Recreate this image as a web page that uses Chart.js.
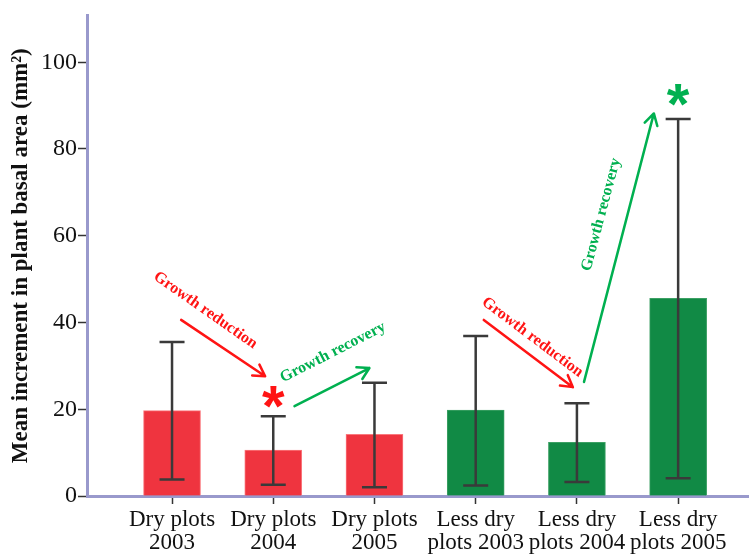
<!DOCTYPE html>
<html>
<head>
<meta charset="utf-8">
<script src="https://cdn.jsdelivr.net/npm/chart.js@4.4.1/dist/chart.umd.min.js"></script>
<style>
  html, body { margin: 0; padding: 0; background: #ffffff; }
  #wrap { width: 749px; height: 554px; position: relative; }
</style>
</head>
<body>
<div id="wrap"><canvas id="c" width="749" height="554"></canvas></div>
<script>
// Plot categories (two-line labels)
const categories = [
  ['Dry plots', '2003'],
  ['Dry plots', '2004'],
  ['Dry plots', '2005'],
  ['Less dry', 'plots 2003'],
  ['Less dry', 'plots 2004'],
  ['Less dry', 'plots 2005']
];
// Mean increment in plant basal area (mm²)
const meanIncrement = [19.7, 10.6, 14.2, 19.8, 12.4, 45.6];
// Error bar limits
const errorLow  = [3.8, 2.6, 2.0, 2.4, 3.2, 4.1];
const errorHigh = [35.5, 18.4, 26.1, 36.9, 21.4, 86.9];
// Y-axis tick values
const yTicks = [0, 20, 40, 60, 80, 100];

const RED_BAR = 'rgb(239,52,63)';
const GREEN_BAR = 'rgb(17,138,69)';
const RED_NOTE = 'rgb(255,20,20)';
const GREEN_NOTE = 'rgb(0,176,80)';
const AXIS = 'rgb(153,153,204)';

const barColors = meanIncrement.map((_, i) => i < 3 ? RED_BAR : GREEN_BAR);
const barBorders = meanIncrement.map((_, i) => i < 3 ? 'rgb(250,120,125)' : 'rgb(60,160,100)');

// Annotations placed in data coordinates (x = category index, y = value)
const arrows = [
  { from: [0.09, 40.6], to: [0.92, 27.6], color: RED_NOTE },
  { from: [1.21, 20.7], to: [1.95, 29.5], color: GREEN_NOTE },
  { from: [3.08, 40.6], to: [3.96, 25.1], color: RED_NOTE },
  { from: [4.07, 26.3], to: [4.76, 88.2], color: GREEN_NOTE }
];
const notes = [
  { text: 'Growth reduction', at: [0.33, 42.8], angle: 35, color: RED_NOTE },
  { text: 'Growth recovery',  at: [1.59, 33.1], angle: -27, color: GREEN_NOTE },
  { text: 'Growth reduction', at: [3.56, 36.6], angle: 37, color: RED_NOTE },
  { text: 'Growth recovery',  at: [4.24, 64.9], angle: -75, color: GREEN_NOTE }
];
const stars = [
  { at: [1.0, 22.8], color: RED_NOTE, size: 58 },
  { at: [5.0, 92.4], color: GREEN_NOTE, size: 58 }
];

const errorBarPlugin = {
  id: 'errorBars',
  afterDatasetsDraw(chart) {
    const { ctx, scales: { x, y } } = chart;
    ctx.save();
    ctx.strokeStyle = '#3a3a3a';
    ctx.lineWidth = 2.5;
    const cap = 12.5;
    meanIncrement.forEach((_, i) => {
      const px = x.getPixelForValue(i);
      const lo = y.getPixelForValue(errorLow[i]);
      const hi = y.getPixelForValue(errorHigh[i]);
      ctx.beginPath();
      ctx.moveTo(px, lo); ctx.lineTo(px, hi);
      ctx.moveTo(px - cap, lo); ctx.lineTo(px + cap, lo);
      ctx.moveTo(px - cap, hi); ctx.lineTo(px + cap, hi);
      ctx.stroke();
    });
    ctx.restore();
  }
};

const notesPlugin = {
  id: 'notes',
  afterDraw(chart) {
    const { ctx, scales: { x, y } } = chart;
    const P = p => [x.getPixelForValue(p[0]), y.getPixelForValue(p[1])];
    ctx.save();
    // arrows
    arrows.forEach(a => {
      const [x1, y1] = P(a.from), [x2, y2] = P(a.to);
      const ang = Math.atan2(y2 - y1, x2 - x1);
      const head = 13, spread = Math.PI / 6;
      ctx.strokeStyle = a.color;
      ctx.lineWidth = 2.5;
      ctx.lineCap = 'round';
      ctx.lineJoin = 'round';
      ctx.beginPath();
      ctx.moveTo(x1, y1); ctx.lineTo(x2, y2);
      ctx.moveTo(x2 - head * Math.cos(ang - spread), y2 - head * Math.sin(ang - spread));
      ctx.lineTo(x2, y2);
      ctx.lineTo(x2 - head * Math.cos(ang + spread), y2 - head * Math.sin(ang + spread));
      ctx.stroke();
    });
    // rotated labels
    notes.forEach(n => {
      const [cx, cy] = P(n.at);
      ctx.save();
      ctx.translate(cx, cy);
      ctx.rotate(n.angle * Math.PI / 180);
      ctx.fillStyle = n.color;
      ctx.font = 'bold 16px "Liberation Serif", "Times New Roman", serif';
      ctx.textAlign = 'center';
      ctx.textBaseline = 'middle';
      ctx.fillText(n.text, 0, 0);
      ctx.restore();
    });
    // significance stars
    stars.forEach(s => {
      const [cx, cy] = P(s.at);
      ctx.fillStyle = s.color;
      ctx.font = 'bold ' + s.size + 'px "Liberation Sans", Arial, sans-serif';
      ctx.textAlign = 'center';
      ctx.textBaseline = 'alphabetic';
      const m = ctx.measureText('*');
      const mid = (m.actualBoundingBoxAscent - m.actualBoundingBoxDescent) / 2;
      ctx.fillText('*', cx, cy + mid);
    });
    ctx.restore();
  }
};

new Chart(document.getElementById('c'), {
  type: 'bar',
  data: {
    datasets: [{
      data: meanIncrement.map((v, i) => ({ x: i, y: v })),
      backgroundColor: barColors,
      borderColor: barBorders,
      borderWidth: 1,
      barThickness: 57
    }]
  },
  options: {
    responsive: false,
    animation: false,
    devicePixelRatio: 1,
    layout: { padding: { top: 15, right: 0, bottom: 0, left: 0 } },
    plugins: { legend: { display: false }, tooltip: { enabled: false } },
    scales: {
      x: {
        type: 'linear',
        offset: false,
        min: -0.84,
        max: 5.70,
        afterBuildTicks: s => { s.ticks = categories.map((_, i) => ({ value: i })); },
        afterFit: s => { s.height = 58; },
        ticks: {
          callback: v => categories[v],
          color: '#111',
          font: { family: '"Liberation Serif", "Times New Roman", serif', size: 23, lineHeight: 0.98 },
          padding: 5,
          maxRotation: 0,
          autoSkip: false
        },
        grid: { offset: false, drawOnChartArea: false, drawTicks: true, tickLength: 8, tickColor: '#333', tickWidth: 1.5 },
        border: { display: true, color: AXIS, width: 3 }
      },
      y: {
        min: 0,
        max: 110.8,
        afterBuildTicks: s => { s.ticks = yTicks.map(v => ({ value: v })); },
        afterFit: s => { s.width = 87; },
        ticks: {
          color: '#111',
          font: { family: '"Liberation Serif", "Times New Roman", serif', size: 24 },
          padding: 1
        },
        grid: { drawOnChartArea: false, drawTicks: true, tickLength: 9, tickColor: '#333', tickWidth: 1.5 },
        border: { display: true, color: AXIS, width: 3 },
        title: {
          display: true,
          text: 'Mean increment in plant basal area (mm²)',
          color: '#111',
          font: { family: '"Liberation Serif", "Times New Roman", serif', size: 23, weight: 'bold' },
          padding: { top: 7, bottom: 0 }
        }
      }
    }
  },
  plugins: [errorBarPlugin, notesPlugin]
});
</script>
</body>
</html>
